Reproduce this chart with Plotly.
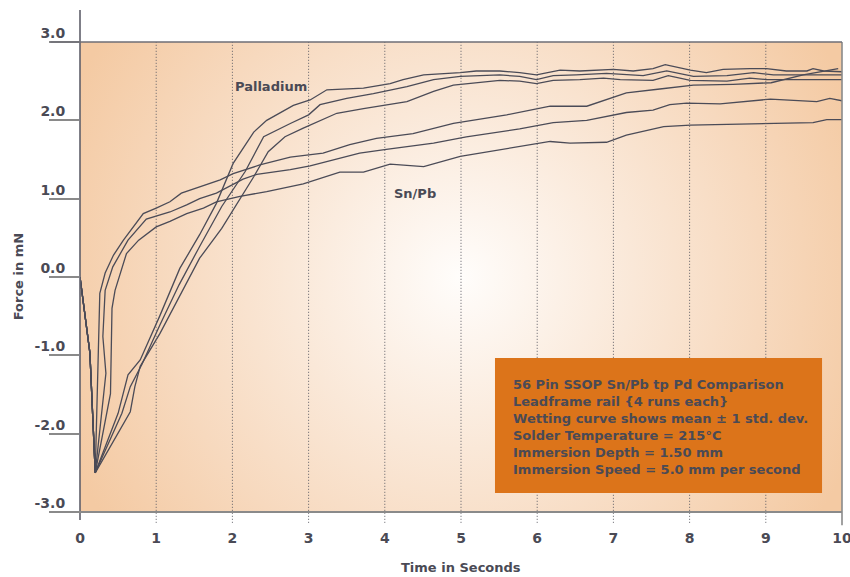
import plotly.graph_objects as go

# ---------------- data ----------------
x_ticks = [0, 1, 2, 3, 4, 5, 6, 7, 8, 9, 10]
y_ticks = [-3, -2, -1, 0, 1, 2, 3]
y_tick_text = ["-3.0", "-2.0", "-1.0", "0.0", "1.0", "2.0", "3.0"]

# Palladium runs
pd1_t = [0, 0.13, 0.2, 0.50, 0.63, 0.79, 1.05, 1.31, 1.57, 1.79, 2.01, 2.28, 2.45, 2.80, 3.02, 3.24, 3.72,
         4.07, 4.24, 4.51, 4.99, 5.2, 5.51, 5.77, 5.99, 6.30, 6.56, 7.0, 7.26, 7.52, 7.68, 8.01, 8.22, 8.44,
         8.79, 9.01, 9.27, 9.54, 9.62, 9.76, 10]
pd1_v = [0, -0.97, -2.5, -1.74, -1.25, -1.06, -0.49, 0.11, 0.54, 0.94, 1.45, 1.85, 2.0, 2.19, 2.26, 2.39, 2.41,
         2.47, 2.52, 2.58, 2.61, 2.63, 2.63, 2.61, 2.58, 2.64, 2.63, 2.65, 2.63, 2.66, 2.71, 2.64, 2.61, 2.65,
         2.66, 2.66, 2.63, 2.63, 2.66, 2.63, 2.62]

pd2_t = [0, 0.13, 0.2, 0.55, 0.66, 0.81, 1.05, 1.3, 1.57, 1.86, 2.17, 2.41, 2.76, 3.0, 3.15, 3.5, 3.85, 4.29,
         4.64, 4.99, 5.51, 5.77, 5.99, 6.21, 6.51, 6.91, 7.39, 7.70, 8.05, 8.49, 8.84, 9.10, 10]
pd2_v = [0, -0.97, -2.5, -1.74, -1.40, -1.12, -0.61, -0.1, 0.39, 0.9, 1.35, 1.79, 1.96, 2.07, 2.20, 2.28, 2.34,
         2.43, 2.52, 2.56, 2.58, 2.56, 2.52, 2.57, 2.58, 2.60, 2.57, 2.63, 2.56, 2.57, 2.61, 2.58, 2.58]

pd3_t = [0, 0.13, 0.2, 0.66, 0.72, 0.79, 1.05, 1.3, 1.57, 1.86, 2.01, 2.28, 2.47, 2.69, 2.93, 3.15, 3.37, 3.72,
         4.02, 4.29, 4.64, 4.9, 5.51, 5.77, 5.99, 6.21, 6.56, 6.87, 7.09, 7.52, 7.72, 8.01, 8.49, 8.79, 9.01, 10]
pd3_v = [0, -0.97, -2.5, -1.72, -1.40, -1.14, -0.72, -0.25, 0.24, 0.62, 0.85, 1.28, 1.60, 1.79, 1.90, 2.0, 2.09,
         2.15, 2.20, 2.24, 2.37, 2.45, 2.51, 2.50, 2.47, 2.51, 2.52, 2.54, 2.52, 2.51, 2.57, 2.51, 2.50, 2.54,
         2.52, 2.52]

# Sn/Pb runs
sn1_t = [0, 0.13, 0.2, 0.24, 0.26, 0.33, 0.44, 0.57, 0.68, 0.83, 1.0, 1.18, 1.33, 1.57, 1.84, 2.01, 2.36, 2.76,
         3.19, 3.54, 3.89, 4.37, 4.9, 5.6, 5.91, 6.17, 6.65, 7.17, 7.61, 8.05, 8.57, 9.07, 9.49, 9.95]
sn1_v = [0, -0.97, -2.5, -0.80, -0.21, 0.05, 0.28, 0.47, 0.62, 0.81, 0.88, 0.96, 1.07, 1.15, 1.24, 1.32, 1.43,
         1.53, 1.58, 1.69, 1.77, 1.83, 1.96, 2.07, 2.13, 2.18, 2.18, 2.35, 2.40, 2.45, 2.46, 2.48, 2.58, 2.66]

sn2_t = [0, 0.13, 0.2, 0.34, 0.30, 0.33, 0.43, 0.63, 0.87, 1.18, 1.40, 1.57, 1.79, 2.14, 2.32, 2.76, 3.02, 3.67,
         4.02, 4.64, 5.07, 5.77, 6.21, 6.65, 7.17, 7.52, 7.74, 7.96, 8.40, 9.06, 9.67, 9.84, 10]
sn2_v = [0, -0.97, -2.5, -1.23, -0.76, -0.17, 0.13, 0.47, 0.74, 0.83, 0.92, 1.0, 1.07, 1.25, 1.31, 1.37, 1.42,
         1.58, 1.63, 1.71, 1.79, 1.89, 1.97, 2.0, 2.10, 2.13, 2.20, 2.22, 2.21, 2.27, 2.24, 2.28, 2.25]

sn3_t = [0, 0.13, 0.2, 0.40, 0.42, 0.46, 0.61, 0.77, 1.0, 1.18, 1.40, 1.62, 1.79, 2.10, 2.45, 2.93, 3.41, 3.72,
         4.07, 4.51, 4.99, 5.77, 6.17, 6.43, 6.91, 7.17, 7.66, 8.01, 8.49, 9.06, 9.62, 9.80, 10]
sn3_v = [0, -0.97, -2.5, -1.49, -0.40, -0.17, 0.30, 0.47, 0.64, 0.71, 0.81, 0.88, 0.96, 1.03, 1.09, 1.19, 1.34,
         1.34, 1.44, 1.41, 1.54, 1.66, 1.73, 1.71, 1.72, 1.81, 1.92, 1.94, 1.95, 1.96, 1.97, 2.01, 2.01]

series = [(pd1_t, pd1_v), (pd2_t, pd2_v), (pd3_t, pd3_v),
          (sn1_t, sn1_v), (sn2_t, sn2_v), (sn3_t, sn3_v)]

info_lines = [
    "56 Pin SSOP Sn/Pb tp Pd Comparison",
    "Leadframe rail {4 runs each}",
    "Wetting curve shows mean \u00b1 1 std. dev.",
    "Solder Temperature = 215\u00b0C",
    "Immersion Depth = 1.50 mm",
    "Immersion Speed = 5.0 mm per second",
]

# ---------------- style ----------------
FONT = "DejaVu Sans"
TXT = "#4a4a55"
LINE = "#4b4b57"
GREY = "#8a8a8a"

fig = go.Figure()

# radial background glow (square in pixel space, centred on the plot)
fig.add_trace(go.Scatter(
    x=[-0.64, 10.64, 10.64, -0.64, -0.64],
    y=[-5.49, -5.49, 5.49, 5.49, -5.49],
    mode="lines", line=dict(width=0), fill="toself",
    fillgradient=dict(type="radial", colorscale=[
        [0.0, "#fffdfb"], [0.15, "#fdf5ee"], [0.4, "#fae8d8"],
        [0.7, "#f7d9be"], [1.0, "#f4caa3"]]),
    hoverinfo="skip", showlegend=False))

for t, v in series:
    fig.add_trace(go.Scatter(x=t, y=v, mode="lines",
                             line=dict(color=LINE, width=1.3),
                             showlegend=False, hoverinfo="skip"))

shapes = []
# dotted verticals
for xv in x_ticks[1:-1]:
    shapes.append(dict(type="line", xref="x", yref="paper", x0=xv, x1=xv, y0=-0.023, y1=1,
                       line=dict(color="#5e5e66", width=1, dash="1px,2px"), layer="above"))
# borders
shapes += [
    dict(type="line", xref="paper", yref="paper", x0=0, x1=0, y0=-0.017, y1=1.068,
         line=dict(color="#5f5f6a", width=1.6), layer="above"),
    dict(type="line", xref="paper", yref="paper", x0=1, x1=1, y0=-0.028, y1=1,
         line=dict(color=GREY, width=1.6), layer="above"),
    dict(type="line", xref="paper", yref="paper", x0=-0.039, x1=1, y0=1, y1=1,
         line=dict(color="#6e6e76", width=1.4), layer="above"),
    dict(type="line", xref="paper", yref="paper", x0=-0.039, x1=1, y0=0, y1=0,
         line=dict(color=GREY, width=2.2), layer="above"),
    dict(type="rect", xref="paper", yref="paper", x0=0.5446, x1=0.9738, y0=0.0404, y1=0.3277,
         fillcolor="#dc741a", line=dict(width=0), layer="above"),
]

annotations = [
    dict(text="<br>".join(info_lines), xref="paper", yref="paper", x=0.566, y=0.2915,
         xanchor="left", yanchor="top", align="left", showarrow=False,
         font=dict(family=FONT, size=13, color=TXT, weight="bold")),
    dict(text="Palladium", xref="x", yref="y", x=2.51, y=2.43, showarrow=False,
         font=dict(family=FONT, size=13, color=TXT, weight="bold")),
    dict(text="Sn/Pb", xref="x", yref="y", x=4.40, y=1.07, showarrow=False,
         font=dict(family=FONT, size=13, color=TXT, weight="bold")),
    dict(text="Time in Seconds", xref="paper", yref="paper", x=0.5, y=-0.119,
         xanchor="center", yanchor="middle", showarrow=False,
         font=dict(family=FONT, size=13, color=TXT, weight="bold")),
    dict(text="Force in mN", xref="paper", yref="paper", x=-0.081, y=0.5, textangle=-90,
         xanchor="center", yanchor="middle", showarrow=False,
         font=dict(family=FONT, size=13, color=TXT, weight="bold")),
]

fig.update_layout(
    width=850, height=577,
    margin=dict(l=80, r=8, t=42, b=65, autoexpand=False),
    paper_bgcolor="white", plot_bgcolor="#f4caa3",
    shapes=shapes, annotations=annotations,
    xaxis=dict(range=[0, 10], tickvals=x_ticks, ticks="outside", ticklen=11,
               tickcolor="rgba(0,0,0,0)", ticklabelstandoff=2, ticklabeloverflow="allow",
               automargin=False,
               tickfont=dict(family=FONT, size=14, color=TXT, weight="bold"),
               showgrid=False, zeroline=False, showline=False, fixedrange=True),
    yaxis=dict(range=[-3, 3], tickvals=y_ticks, ticktext=y_tick_text, ticks="outside",
               ticklen=30, tickwidth=1.6, tickcolor=GREY, ticklabelshift=-9,
               ticklabelstandoff=-19, ticklabeloverflow="allow", automargin=False,
               tickfont=dict(family=FONT, size=14, color=TXT, weight="bold"),
               showgrid=False, zeroline=False, showline=False, fixedrange=True),
)

fig.write_html("out.html")
